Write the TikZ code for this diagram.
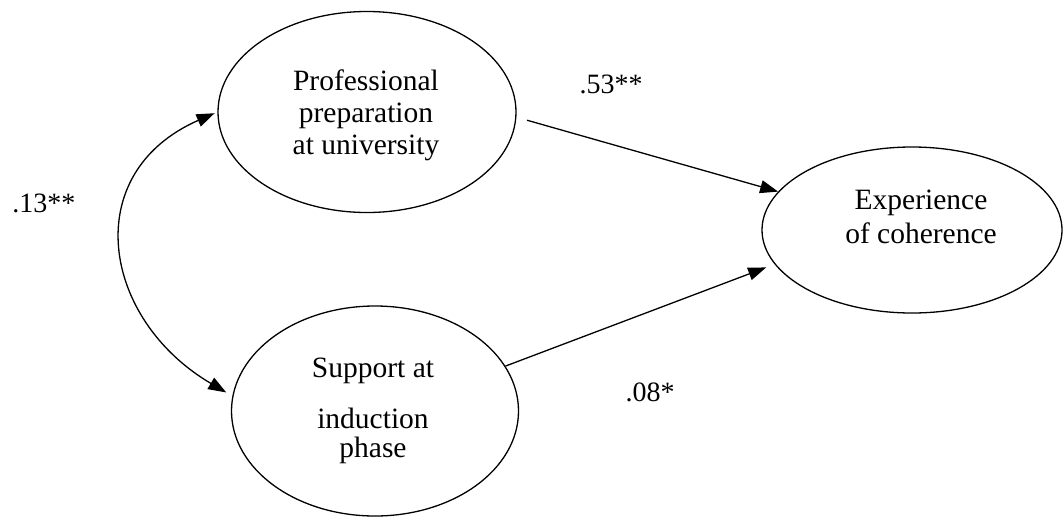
\documentclass[tikz,border=0pt]{standalone}
\usepackage{fontspec}
\setmainfont{Liberation Serif}
\usetikzlibrary{shapes.geometric,arrows.meta}
\begin{document}
\begin{tikzpicture}[x=1pt,y=-1pt,
  latent/.style={ellipse,draw,line width=1.3pt,inner sep=0pt},
  caption/.style={align=center,inner sep=0pt},
  coef/.style={font=\fontsize{28}{34}\selectfont,inner sep=0pt},
  effect/.style={line width=1.3pt,-{Triangle[length=18pt,width=13pt]}},
  covar/.style={line width=1.3pt,{Triangle[length=18pt,width=13pt]}-{Triangle[length=18pt,width=13pt]}},
]
\useasboundingbox (0,0) rectangle (1064,517);

% latent variables
\node[latent,minimum width=298pt,minimum height=201pt] (prof) at (367,112) {};
\node[latent,minimum width=287pt,minimum height=210pt] (sup) at (375,411) {};
\node[latent,minimum width=300pt,minimum height=166pt] (exp) at (912,230) {};

% their names
\node[caption,font=\fontsize{29.5}{32}\selectfont] (profT) at (366,115)
  {Professional\\preparation\\at university};
\node[caption,font=\fontsize{29.5}{29}\selectfont] (supT) at (373,411)
  {Support at\\[22pt]induction\\phase};
\node[caption,font=\fontsize{29.5}{34}\selectfont] (expT) at (921,217)
  {Experience\\of coherence};

% paths
\draw[effect,shorten <=11pt] (prof.-2) -- (exp.164);
\draw[effect,shorten >=9pt] (sup.19.6) -- (exp.194.8);
\draw[covar,shorten <=3pt,shorten >=7pt]
  (prof.180) .. controls +(-139,61) and +(-131,-77) .. (sup.174);

% coefficients
\node[coef] (b1) at (611,84) {.53**};
\node[coef] (b2) at (650,392) {.08*};
\node[coef] (r) at (44,203) {.13**};
\end{tikzpicture}
\end{document}
